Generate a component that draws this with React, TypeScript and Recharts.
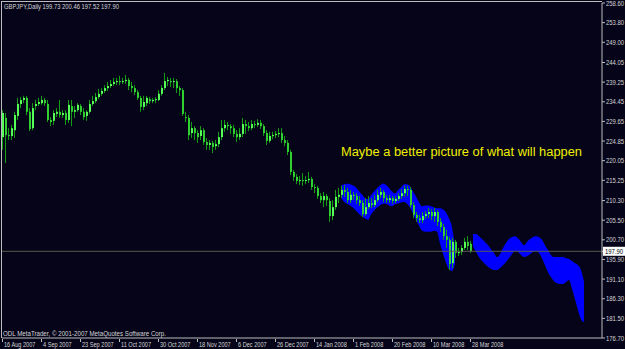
import React from "react";
import { ComposedChart, Bar, Area, XAxis, YAxis, ReferenceLine } from "recharts";

// time axis: bar index of each date label
const dateLabels = [
  "16 Aug 2007", "4 Sep 2007", "23 Sep 2007", "11 Oct 2007", "30 Oct 2007",
  "18 Nov 2007", "6 Dec 2007", "26 Dec 2007", "14 Jan 2008", "1 Feb 2008",
  "20 Feb 2008", "10 Mar 2008", "28 Mar 2008",
];
const dateBars = [0, 13, 26, 39, 52, 65, 78, 91, 104, 117, 130, 143, 156];

const priceTicks = [
  258.6, 253.8, 249.0, 244.05, 239.25, 234.45, 229.65, 224.85, 220.05,
  215.25, 210.3, 205.5, 200.7, 195.9, 191.1, 186.3, 181.5, 176.7,
];
const lastClose = 197.9;

// GBPJPY daily candles
const opens = [
  225.8, 230.5, 226.3, 226.1, 227.5, 231.0, 233.9, 234.9, 235.4, 232.0,
  228.0, 233.4, 233.9, 234.1, 234.9, 233.9, 230.0, 229.8, 231.5, 232.0,
  231.2, 231.7, 230.0, 233.4, 232.0, 232.4, 233.4, 232.0, 231.0, 232.0,
  233.9, 234.6, 235.6, 236.4, 237.1, 237.8, 238.3, 238.8, 239.3, 239.5,
  239.3, 239.5, 239.8, 238.3, 237.8, 236.8, 235.4, 233.2, 234.1, 235.1,
  234.6, 234.9, 234.9, 236.4, 237.8, 239.5, 239.5, 239.3, 239.5, 237.8,
  237.3, 230.7, 230.5, 226.8, 228.0, 226.8, 226.1, 227.5, 224.6, 223.9,
  224.4, 223.6, 224.1, 225.8, 228.0, 228.8, 228.5, 228.0, 226.6, 225.8,
  226.6, 229.0, 228.5, 228.0, 229.0, 228.8, 229.3, 228.5, 226.8, 224.9,
  226.1, 226.3, 226.6, 226.8, 225.1, 224.4, 222.2, 217.3, 216.1, 215.1,
  215.3, 215.1, 215.3, 215.6, 213.6, 213.4, 211.4, 210.4, 211.4, 210.2,
  206.5, 208.7, 211.2, 211.7, 212.9, 212.4, 210.4, 211.7, 211.4, 210.4,
  209.7, 207.0, 208.7, 209.7, 209.2, 210.4, 211.7, 212.4, 210.9, 210.4,
  210.9, 210.2, 210.7, 211.4, 212.1, 213.1, 212.9, 209.2, 206.8, 206.0,
  205.5, 206.5, 207.0, 207.5, 206.5, 207.5, 205.1, 203.8, 201.6, 200.7,
  195.0, 200.2, 197.5, 197.7, 198.7, 200.2, 199.73,
];
const highs = [
  232.4, 231.7, 228.0, 228.8, 232.0, 235.4, 235.6, 235.9, 235.9, 232.9,
  234.1, 234.9, 235.4, 235.9, 235.4, 234.9, 230.7, 232.4, 232.9, 234.9,
  232.4, 232.4, 234.9, 234.9, 233.4, 234.1, 233.9, 232.9, 232.4, 234.9,
  235.9, 236.6, 237.6, 237.8, 238.5, 239.3, 239.8, 240.3, 240.3, 240.8,
  240.3, 241.0, 240.3, 239.3, 238.5, 237.3, 235.9, 235.9, 235.9, 235.6,
  235.4, 235.6, 237.3, 238.5, 241.5, 240.5, 240.3, 240.3, 240.0, 238.3,
  237.8, 232.0, 231.2, 229.5, 228.5, 227.5, 228.5, 228.0, 225.6, 225.1,
  224.9, 225.1, 227.1, 230.0, 230.0, 229.5, 229.0, 228.8, 227.5, 228.0,
  230.5, 230.0, 229.5, 230.0, 229.8, 230.2, 230.0, 229.0, 227.5, 227.1,
  227.1, 227.3, 228.0, 228.0, 226.1, 225.1, 222.7, 217.8, 216.8, 216.3,
  217.0, 216.3, 217.3, 216.1, 214.3, 213.9, 212.1, 212.4, 211.9, 210.9,
  210.4, 212.9, 213.4, 213.9, 214.1, 213.4, 212.9, 212.4, 212.1, 211.4,
  210.4, 210.9, 211.4, 210.9, 211.7, 212.9, 213.4, 212.9, 211.7, 211.7,
  211.4, 211.4, 212.1, 213.1, 213.9, 213.9, 213.6, 209.9, 207.5, 206.8,
  207.5, 207.7, 208.5, 208.2, 208.5, 208.0, 206.0, 204.6, 203.1, 201.4,
  201.2, 200.7, 198.7, 199.4, 201.2, 201.6, 200.46,
];
const lows = [
  222.7, 219.5, 225.1, 225.1, 225.6, 230.0, 232.9, 234.1, 231.2, 227.3,
  227.5, 232.4, 233.4, 233.7, 233.4, 229.5, 228.5, 228.8, 230.7, 230.5,
  230.5, 228.8, 229.3, 228.5, 230.5, 232.0, 231.2, 230.0, 229.8, 231.5,
  233.4, 234.1, 235.1, 235.9, 236.6, 237.1, 237.8, 238.3, 238.5, 238.5,
  238.8, 238.8, 237.3, 236.8, 236.1, 234.9, 232.0, 232.4, 233.4, 233.9,
  234.1, 234.1, 234.6, 235.9, 237.3, 238.3, 238.1, 237.8, 236.6, 235.9,
  231.0, 229.5, 225.1, 225.6, 225.1, 224.4, 225.1, 223.9, 222.7, 222.7,
  221.9, 222.7, 223.4, 225.1, 227.1, 227.5, 226.6, 225.8, 224.6, 225.1,
  225.8, 226.6, 227.3, 227.5, 228.0, 228.3, 227.8, 226.1, 223.9, 224.4,
  225.3, 225.6, 225.8, 224.4, 223.6, 221.4, 216.5, 215.1, 214.3, 214.1,
  213.9, 214.3, 214.6, 212.9, 212.1, 210.7, 209.7, 208.7, 209.0, 205.1,
  205.5, 208.0, 209.7, 210.9, 211.2, 209.7, 209.7, 210.4, 209.5, 209.0,
  206.3, 206.5, 208.2, 208.5, 208.7, 209.9, 210.9, 209.9, 209.7, 209.7,
  209.5, 209.7, 210.2, 210.7, 211.2, 211.4, 208.5, 206.0, 205.1, 204.8,
  204.8, 205.8, 206.0, 205.5, 205.1, 204.1, 202.6, 200.7, 198.7, 193.3,
  193.8, 196.3, 196.7, 197.0, 198.2, 198.2, 197.52,
];
const closes = [
  231.7, 226.3, 226.1, 228.0, 231.2, 233.9, 234.9, 235.4, 232.0, 227.8,
  232.9, 233.9, 234.4, 234.9, 234.1, 230.0, 229.5, 231.7, 232.0, 231.2,
  231.7, 230.0, 233.7, 232.0, 232.4, 233.7, 232.0, 230.7, 232.0, 233.9,
  234.6, 235.6, 236.4, 237.1, 237.8, 238.3, 238.8, 239.3, 239.5, 239.3,
  239.5, 239.8, 238.3, 237.8, 236.8, 235.4, 233.2, 234.4, 235.4, 234.6,
  234.9, 235.1, 236.4, 237.8, 239.5, 239.8, 239.3, 239.5, 237.8, 237.3,
  231.5, 230.5, 226.3, 228.0, 226.8, 225.8, 227.5, 224.6, 223.9, 224.4,
  223.4, 224.1, 225.8, 228.0, 228.8, 228.5, 228.0, 226.6, 225.8, 226.6,
  229.0, 228.5, 228.0, 229.0, 228.8, 229.3, 228.5, 226.8, 224.9, 226.1,
  226.3, 226.6, 226.8, 225.1, 224.4, 222.2, 217.3, 216.1, 215.1, 215.3,
  215.1, 215.3, 215.6, 213.6, 213.4, 211.4, 210.4, 211.4, 210.4, 206.5,
  208.7, 211.2, 211.7, 212.9, 212.4, 210.4, 211.7, 211.4, 210.4, 209.7,
  207.0, 208.7, 209.7, 209.2, 210.4, 211.7, 212.4, 210.9, 210.4, 210.9,
  210.2, 210.7, 211.4, 212.1, 213.1, 212.9, 209.2, 206.8, 206.0, 205.5,
  206.5, 207.0, 207.5, 206.5, 207.5, 205.1, 203.8, 201.6, 200.7, 194.8,
  200.2, 197.5, 197.7, 198.7, 200.2, 199.2, 197.9,
];

// hand drawn blue "projection" band, first piece over the last weeks
const bandAStart = 113;
const bandATop = [
  213.9, 214.3, 214.4, 214.3, 214.0, 213.5, 212.6, 211.8, 210.9, 210.6,
  211.6, 212.5, 213.3, 214.0, 214.5, 214.1, 213.4, 212.5, 212.0, 212.9,
  213.5, 214.3, 214.3, 213.8, 212.5, 211.3, 209.9, 208.9, 209.1, 209.1,
  208.9, 208.6, 208.4, 208.4, 208.1, 207.4, 205.9, 203.8, 198.7,
];
const bandABottom = [
  211.0, 210.0, 209.5, 209.1, 208.6, 207.8, 207.1, 206.4, 205.9, 205.6,
  206.9, 207.8, 208.6, 209.1, 209.5, 209.5, 209.1, 208.9, 209.4, 209.6,
  209.8, 210.0, 209.5, 208.6, 207.1, 205.6, 204.2, 202.9, 202.7, 202.7,
  202.7, 202.9, 202.7, 199.8, 197.3, 195.1, 193.5, 193.1, 194.8,
];
// second piece, beyond the last bar
const bandBStart = 157;
const bandBTop = [
  202.1, 202.1, 201.6, 200.9, 200.2, 199.4, 198.4, 197.5, 196.5, 197.2,
  198.7, 199.9, 200.9, 201.4, 201.6, 201.1, 200.2, 199.4, 200.2, 200.9,
  201.4, 201.6, 201.4, 200.7, 199.4, 198.2, 197.0, 196.5, 196.5, 196.5,
  196.5, 196.2, 196.0, 195.5, 195.0, 194.5, 193.3, 190.4,
];
const bandBBottom = [
  199.2, 197.7, 196.5, 195.5, 194.8, 194.1, 193.6, 193.3, 193.3, 193.8,
  194.5, 195.3, 196.2, 197.2, 198.0, 197.7, 197.0, 196.5, 196.7, 197.2,
  197.7, 198.0, 197.5, 196.2, 194.5, 192.8, 191.6, 190.6, 190.1, 189.9,
  189.9, 190.4, 190.9, 188.7, 186.2, 183.5, 181.3, 180.6,
];

const BG = "#050419";
const AXIS = "#bdbdbd";
const TEXT = "#d6d6d6";
const FONT = "'Liberation Sans', Arial, sans-serif";

const lastIndex = bandBStart + bandBTop.length - 1;
const data: any[] = [];
for (let i = 0; i <= lastIndex; i++) {
  const row: any = { i };
  if (i < opens.length) {
    row.o = opens[i];
    row.h = highs[i];
    row.l = lows[i];
    row.c = closes[i];
    row.candle = [lows[i], highs[i]];
  }
  const a = i - bandAStart;
  if (a >= 0 && a < bandATop.length) row.band = [bandABottom[a], bandATop[a]];
  const b = i - bandBStart;
  if (b >= 0 && b < bandBTop.length) row.band = [bandBBottom[b], bandBTop[b]];
  data.push(row);
}

const Candle = (props: any) => {
  const { x, y, width, height, payload } = props;
  if (!payload || payload.o == null || height == null) return null;
  const top = Math.min(y, y + height);
  const span = Math.abs(height);
  if (!span) return null;
  const cx = Math.round(x + width / 2);
  const toY = (p: number) => top + ((payload.h - p) / (payload.h - payload.l)) * span;
  const yo = toY(payload.o);
  const yc = toY(payload.c);
  const bTop = Math.min(yo, yc);
  const bBot = Math.max(yo, yc);
  const up = payload.c >= payload.o;
  return (
    <g>
      <line x1={cx + 0.5} x2={cx + 0.5} y1={top} y2={top + span} stroke="#169d16" />
      <rect
        x={cx}
        y={bTop}
        width={2}
        height={Math.max(1, bBot - bTop)}
        fill={up ? "#55ff55" : "#30d030"}
      />
    </g>
  );
};

const PriceTick = (props: any) => {
  const { x, y, payload } = props;
  const v = payload.value;
  const boxed = v === lastClose;
  return (
    <g>
      {boxed && <rect x={x - 3} y={y - 4.5} width={22} height={9} fill="#ffffff" />}
      <text
        transform={`translate(${boxed ? x - 1 : x},${y + 2.5}) scale(0.85,1)`}
        fill={boxed ? "#000000" : TEXT}
        fontSize={7}
        fontFamily={FONT}
      >
        {v.toFixed(2)}
      </text>
    </g>
  );
};

const DateTick = (props: any) => {
  const { x, y, payload } = props;
  const k = dateBars.indexOf(payload.value);
  if (k < 0) return null;
  return (
    <g>
      <line x1={x + 0.5} x2={x + 0.5} y1={y + 1} y2={y + 4} stroke={AXIS} />
      <text
        transform={`translate(${x + 2},${y + 8.5}) scale(0.8,1)`}
        fill={TEXT}
        fontSize={7}
        fontFamily={FONT}
      >
        {dateLabels[k]}
      </text>
    </g>
  );
};

export default function App() {
  return (
    <div
      style={{
        position: "absolute",
        left: 0,
        top: 0,
        width: 625,
        height: 349,
        background: BG,
        overflow: "hidden",
      }}
    >
      <ComposedChart
        width={625}
        height={349}
        data={data}
        margin={{ top: 3, right: 0, bottom: 0, left: 2 }}
      >
        <XAxis
          dataKey="i"
          type="number"
          domain={[0, 200]}
          allowDataOverflow
          ticks={dateBars}
          interval={0}
          height={11}
          tickSize={0}
          tickMargin={0}
          tickLine={false}
          axisLine={{ stroke: AXIS }}
          tick={<DateTick />}
        />
        <YAxis
          orientation="right"
          domain={[176.7, 258.6]}
          allowDataOverflow
          ticks={[...priceTicks, lastClose]}
          interval={0}
          width={23}
          tickSize={3}
          tickMargin={1}
          tickLine={{ stroke: AXIS }}
          axisLine={{ stroke: AXIS }}
          tick={<PriceTick />}
        />
        <Area
          dataKey="band"
          type="monotone"
          stroke="none"
          fill="#0000ff"
          fillOpacity={1}
          connectNulls={false}
          isAnimationActive={false}
        />
        <ReferenceLine y={lastClose} stroke="#5a5a50" />
        <Bar dataKey="candle" barSize={3} shape={<Candle />} isAnimationActive={false} />
      </ComposedChart>
      <svg
        width={625}
        height={349}
        style={{ position: "absolute", left: 0, top: 0, pointerEvents: "none" }}
      >
        <line x1={1.5} x2={1.5} y1={1} y2={338} stroke={AXIS} />
        <line x1={1} x2={602} y1={1.5} y2={1.5} stroke={AXIS} />
        <text
          x={4}
          y={9}
          fill={TEXT}
          fontSize={7}
          fontFamily={FONT}
          textLength={115}
          lengthAdjust="spacingAndGlyphs"
        >
          GBPJPY,Daily  199.73 200.46 197.52 197.90
        </text>
        <text
          x={3}
          y={336}
          fill={TEXT}
          fontSize={7}
          fontFamily={FONT}
          textLength={163}
          lengthAdjust="spacingAndGlyphs"
        >
          ODL MetaTrader, © 2001-2007 MetaQuotes Software Corp.
        </text>
        <text
          x={341}
          y={156}
          fill="#f0f000"
          fontSize={12}
          fontFamily={FONT}
          textLength={241}
          lengthAdjust="spacingAndGlyphs"
        >
          Maybe a better picture of what will happen
        </text>
      </svg>
    </div>
  );
}
